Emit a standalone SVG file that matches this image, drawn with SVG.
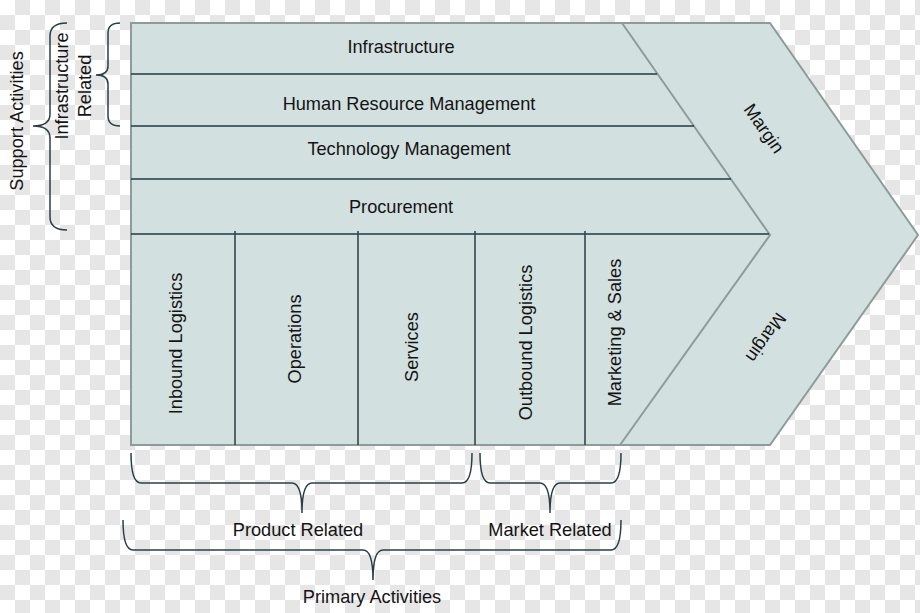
<svg xmlns="http://www.w3.org/2000/svg" width="920" height="613" viewBox="0 0 920 613">
<defs>
<style>
.lbl{font-family:"Liberation Sans",Arial,sans-serif;font-size:18.2px;fill:#141414;text-anchor:middle}
.shape{fill:#d3e0e0;stroke:#8d9c9b;stroke-width:2}
.edge{fill:none;stroke:#8d9c9b;stroke-width:2}
.row{stroke:#1f3a42;stroke-width:1.5}
.col{stroke:#34474e;stroke-width:1.6}
.brace{fill:none;stroke:#2a3f45;stroke-width:1.5}
.checker{fill:none;stroke:#e6e6e6;stroke-width:15;stroke-dasharray:15 15}
</style>
</defs>
<rect width="920" height="613" fill="#ffffff"/>
<path class="checker" d="M15,7.5H920 M0,22.5H920 M15,37.5H920 M0,52.5H920 M15,67.5H920 M0,82.5H920 M15,97.5H920 M0,112.5H920 M15,127.5H920 M0,142.5H920 M15,157.5H920 M0,172.5H920 M15,187.5H920 M0,202.5H920 M15,217.5H920 M0,232.5H920 M15,247.5H920 M0,262.5H920 M15,277.5H920 M0,292.5H920 M15,307.5H920 M0,322.5H920 M15,337.5H920 M0,352.5H920 M15,367.5H920 M0,382.5H920 M15,397.5H920 M0,412.5H920 M15,427.5H920 M0,442.5H920 M15,457.5H920 M0,472.5H920 M15,487.5H920 M0,502.5H920 M15,517.5H920 M0,532.5H920 M15,547.5H920 M0,562.5H920 M15,577.5H920 M0,592.5H920 M15,607.5H920"/>

<g id="value-chain">
<polygon class="shape" points="131,23 770,23 918,235 770,445 131,445"/>
<polyline class="edge" points="622,23 770,235 620,445"/>
</g>

<g id="connectors">
<line class="row" x1="131" y1="74" x2="657" y2="74"/>
<line class="row" x1="131" y1="126" x2="694" y2="126"/>
<line class="row" x1="131" y1="179" x2="731" y2="179"/>
<line class="row" x1="131" y1="234" x2="769" y2="234"/>
<line class="col" x1="235" y1="231" x2="235" y2="445"/>
<line class="col" x1="358" y1="231" x2="358" y2="445"/>
<line class="col" x1="475" y1="231" x2="475" y2="445"/>
<line class="col" x1="585" y1="231" x2="585" y2="445"/>
</g>

<g id="braces">
<path class="brace" d="M120,23 Q108,23 108,33 L108,66 Q108,75 96,75 Q108,75 108,84 L108,116 Q108,126 120,126"/>
<path class="brace" d="M67,23 Q50,23 50,36 L50,114 Q50,126 33,126 Q50,126 50,138 L50,217 Q50,230 67,230"/>
<path class="brace" d="M131,453 Q131,483 141,483 L292,483 Q302,483 302,513 Q302,483 312,483 L462,483 Q472,483 472,453"/>
<path class="brace" d="M480,453 Q480,483 490,483 L540,483 Q550,483 550,513 Q550,483 560,483 L611,483 Q621,483 621,453"/>
<path class="brace" d="M123,520 Q123,550 133,550 L363,550 Q373,550 373,580 Q373,550 383,550 L611,550 Q621,550 621,520"/>
</g>

<g id="infrastructure"><text class="lbl" x="401" y="53">Infrastructure</text></g>
<g id="hrm"><text class="lbl" x="409" y="110">Human Resource Management</text></g>
<g id="technology"><text class="lbl" x="409" y="155">Technology Management</text></g>
<g id="procurement"><text class="lbl" x="401" y="213">Procurement</text></g>

<g id="inbound"><text class="lbl" transform="translate(182,343.5) rotate(-90)">Inbound Logistics</text></g>
<g id="operations"><text class="lbl" transform="translate(301,339) rotate(-90)">Operations</text></g>
<g id="services"><text class="lbl" transform="translate(418,347) rotate(-90)">Services</text></g>
<g id="outbound"><text class="lbl" transform="translate(532,342.5) rotate(-90)">Outbound Logistics</text></g>
<g id="marketing"><text class="lbl" transform="translate(621,332.5) rotate(-90)">Marketing &amp; Sales</text></g>

<g id="margin-top"><text class="lbl" transform="translate(759,132) rotate(55)">Margin</text></g>
<g id="margin-bottom"><text class="lbl" transform="translate(761,334) rotate(125)">Margin</text></g>

<g id="infrastructure-related">
<text class="lbl" transform="translate(68,86) rotate(-90)">Infrastructure</text>
<text class="lbl" transform="translate(91,86) rotate(-90)">Related</text>
</g>
<g id="support-activities"><text class="lbl" transform="translate(23,121) rotate(-90)">Support Activities</text></g>

<g id="product-related"><text class="lbl" x="298" y="536">Product Related</text></g>
<g id="market-related"><text class="lbl" x="550" y="536">Market Related</text></g>
<g id="primary-activities"><text class="lbl" x="372" y="603">Primary Activities</text></g>
</svg>
